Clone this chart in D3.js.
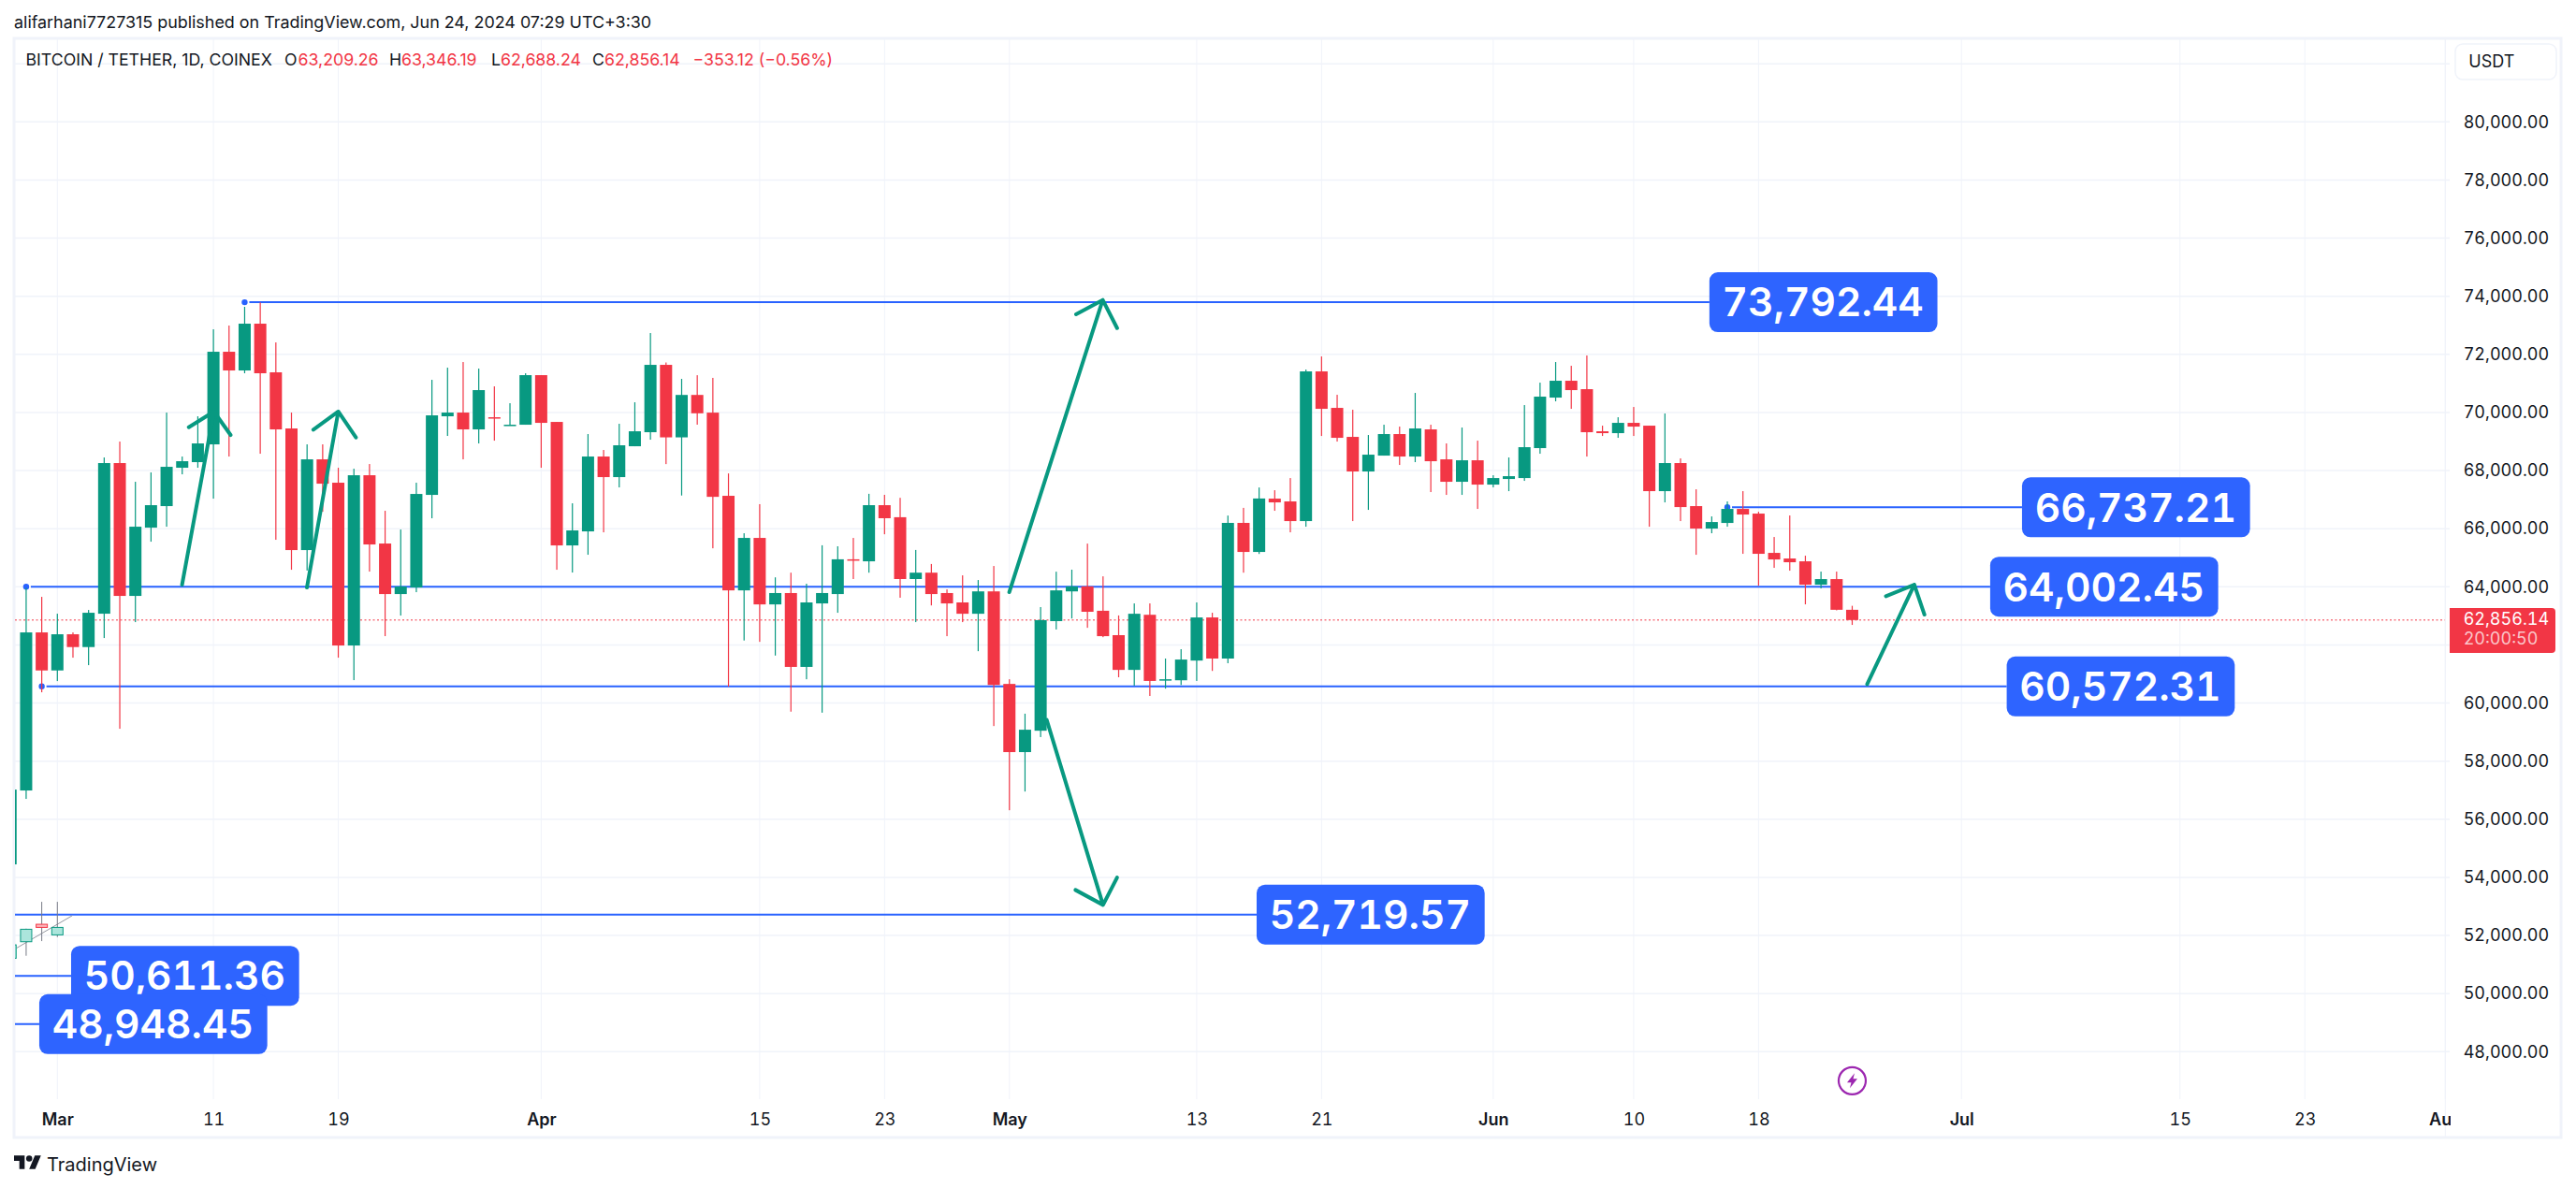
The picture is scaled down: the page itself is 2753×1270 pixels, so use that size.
<!DOCTYPE html>
<html>
<head>
<meta charset="utf-8">
<title>BTC/USDT</title>
<script src="https://cdn.jsdelivr.net/npm/d3@7"></script>
<style>
  html, body { margin: 0; padding: 0; background: #ffffff; }
  svg { display: block; }
  text { font-family: Inter, "Noto Sans", sans-serif; fill: #131722; }
  .tabular text, text.tabular { font-variant-numeric: tabular-nums; font-feature-settings: "tnum"; }
</style>
</head>
<body>
<div id="chart"></div>
<script>
const WIDTH = 2753;
const HEIGHT = 1270;

// daily candles, first candle is Feb 26 (day -3 counted from Mar 1)
const FIRST_DAY = -3;
const opens = [54447,56990,62430,61121,62366,61926,63074,68258,63686,66036,66777,68097,68290,68902,72089,71445,73055,71381,69449,65263,68386,67582,61980,67839,65489,63750,63976,67163,69868,69996,69417,69835,69578,69578,71284,69674,65424,65907,68483,67775,68837,69320,71638,69143,70603,69994,67131,63877,65682,63394,63785,61243,63428,63750,64946,64877,66809,66395,64267,64486,63785,63462,63072,63842,60657,58311,59047,62819,63842,64014,63175,62336,61140,63037,60783,60783,61461,62945,61531,66199,65199,67034,66938,66261,71413,70157,69159,67968,68515,69256,68483,69417,68386,67614,68354,67517,67710,67742,68773,70511,71091,70801,69352,69288,69642,69545,67292,68258,66777,66004,66197,66680,66519,65167,64974,64877,64072,64265,63209];
const highs = [57560,63965,63654,63074,62430,63203,68451,68998,67614,67936,69996,68483,69868,72862,72991,73635,73785,72411,69996,68902,68902,68097,68064,68225,66616,65972,67582,71123,71542,71735,71510,70898,70318,71349,71284,69674,66873,69256,68709,69610,70350,72733,71719,71155,71282,71190,67901,65843,66843,64325,64486,64106,65429,65394,65682,67200,67165,67062,65268,64785,63911,64394,64233,64716,60818,59633,63302,64520,64589,65486,64360,63014,63428,63428,61531,61853,63462,63106,66452,66717,67418,67324,67742,71477,71928,70608,70093,69224,69578,69513,70672,69578,68934,69481,69030,67839,68451,70254,71026,71735,71606,71960,69545,69835,70189,69545,69964,68419,67356,66422,66938,67292,66583,65714,66455,65070,64523,64523,63346];
const lows = [54440,56700,60370,60756,61561,61303,62237,59114,62784,65553,66068,67871,68097,67034,68483,71349,68580,65618,64587,64560,66584,61561,60788,64523,62302,63010,63815,66358,69192,68386,68934,69030,69546,69578,68097,64587,64491,65103,65875,67421,68837,69063,68223,67142,69580,65325,60565,62152,62106,61634,59703,60818,59668,63106,64267,64486,65808,63624,62784,63359,62301,62784,61784,59208,56310,56954,58828,62531,62910,62589,62266,60887,60599,60243,60496,60622,60760,61105,61370,64486,65130,66616,65875,66068,69191,68998,66261,66648,68515,68193,68290,67260,67163,67163,66680,67421,67292,67646,68580,70383,70125,68483,69191,69127,69191,66068,66905,66261,65102,65843,66068,65135,64040,64652,64555,63396,63944,63190,62688];
const closes = [57021,62430,61121,62366,61926,63106,68258,63686,66068,66809,68129,68322,68934,72089,71445,73055,71349,69417,65263,68386,67549,61980,67839,65457,63750,64008,67195,69900,69996,69417,70769,69803,69578,71284,69642,65424,65940,68483,67775,68870,69352,71638,69143,70603,69971,67096,63877,65682,63394,63785,61243,63462,63785,64946,64923,66809,66360,64267,64486,63750,63428,63072,63842,60622,58311,59081,62853,63877,64014,63140,62301,61140,63072,60760,60818,61496,62945,61531,66199,65199,67039,66905,66261,71413,70125,69127,67968,68547,69256,68483,69449,68322,67614,68354,67517,67742,67807,68805,70544,71091,70769,69320,69288,69642,69513,67292,68258,66744,66004,66229,66680,66487,65135,64941,64845,64072,64265,63209,62856];

// faded bars pattern in the lower left corner
const ghostDays = [-3, -2, -1, 0];
const ghostOpens = [51216, 51785, 52386, 52021];
const ghostHighs = [51677, 52235, 53158, 53158];
const ghostLows = [51216, 51302, 51806, 51946];
const ghostCloses = [51677, 52214, 52278, 52278];
const ghostLineDays = [-2.6, 0.96];
const ghostLinePrices = [51570, 52686];

// 62,000 has no label, the last price tag covers it
const priceTicks = [80000, 78000, 76000, 74000, 72000, 70000, 68000, 66000, 64000, 60000, 58000, 56000, 54000, 52000, 50000, 48000];
const priceGrid = d3.range(48000, 82001, 2000);
const dateTickDays = [0, 10, 18, 31, 45, 53, 61, 73, 81, 92, 101, 109, 122, 136, 144, 153];
const dateTickLabels = ["Mar", "11", "19", "Apr", "15", "23", "May", "13", "21", "Jun", "10", "18", "Jul", "15", "23", "Aug"];
const monthLabels = ["Mar", "Apr", "May", "Jun", "Jul", "Aug"];

// blue level lines with their value boxes
const levelPrices = [73792.44, 66737.21, 64002.45, 60572.31, 52719.57, 50611.36, 48948.45];
const levelStartDays = [12, 107, -2, -1, -4, -4, -4];
const levelBoxDays = [105.85, 125.88, 123.84, 124.9, 76.84, 0.88, -1.16];
const levelHasDot = [true, true, true, true, false, false, false];

// hand drawn arrows: shaft start, tip, head left, head right
const arrowDays = [
  [7.99, 10.03, 8.42, 11.1],
  [15.99, 18, 16.4, 19.13],
  [60.99, 66.98, 65.27, 67.9],
  [63.39, 67, 65.23, 67.9],
  [115.96, 118.98, 117.16, 119.63],
];
const arrowPrices = [
  [64073, 70029, 69491, 69224],
  [63976, 70030, 69407, 69137],
  [63815, 73870, 73377, 72904],
  [59417, 53052, 53567, 53995],
  [60650, 64073, 63677, 63042],
];

const LAST_PRICE = 62856.14;
const COUNTDOWN = "20:00:50";
const EVENT_DAY = 115;
const EVENT_PRICE = 47000;

const publishedText = "alifarhani7727315 published on TradingView.com, Jun 24, 2024 07:29 UTC+3:30";
const symbolText = "BITCOIN / TETHER, 1D, COINEX";
const ohlcLetters = ["O", "H", "L", "C"];
const ohlcValues = ["63,209.26", "63,346.19", "62,688.24", "62,856.14"];
const changeText = "\u2212353.12 (\u22120.56%)";

const GREEN = "#089981";
const RED = "#f23645";
const BLUE = "#2962ff";
const BOX_BLUE = "#2e64ff";
const GRID = "#f0f3fa";
const BORDER = "#f0f3fa";
const BODY_WIDTH = 13;
const WICK_WIDTH = 1.2;

const PLOT_LEFT = 16;
const PLOT_RIGHT = 2618;
const AXIS_LINE_X = 2613.3;
const PLOT_TOP = 42;
const PLOT_BOTTOM = 1175;
const BOX_WIDTH = 243.7;
const BOX_HEIGHT = 64;

const xScale = d3.scaleLinear().domain([0, 153]).range([61.3, AXIS_LINE_X]);
const yScale = d3.scaleLinear().domain([48000, 80000]).range([1124.3, 130.3]);

const svg = d3.select("#chart").append("svg")
  .attr("width", WIDTH)
  .attr("height", HEIGHT)
  .attr("viewBox", `0 0 ${WIDTH} ${HEIGHT}`);

const defs = svg.append("defs");
defs.append("clipPath").attr("id", "plot-clip").append("rect")
  .attr("x", PLOT_LEFT).attr("y", PLOT_TOP)
  .attr("width", AXIS_LINE_X - PLOT_LEFT).attr("height", PLOT_BOTTOM - PLOT_TOP);
defs.append("clipPath").attr("id", "time-clip").append("rect")
  .attr("x", PLOT_LEFT).attr("y", PLOT_BOTTOM)
  .attr("width", 2619 - PLOT_LEFT).attr("height", 40);

// frame
svg.append("rect")
  .attr("x", 15).attr("y", 41)
  .attr("width", 2722).attr("height", 1175)
  .attr("fill", "#ffffff")
  .attr("stroke", BORDER)
  .attr("stroke-width", 3);

// grid
svg.append("g").selectAll("line")
  .data(priceGrid)
  .join("line")
  .attr("x1", PLOT_LEFT)
  .attr("x2", PLOT_RIGHT)
  .attr("y1", (price) => yScale(price))
  .attr("y2", (price) => yScale(price))
  .attr("stroke", GRID)
  .attr("stroke-width", 1.5);

svg.append("g").selectAll("line")
  .data(dateTickDays)
  .join("line")
  .attr("x1", (day) => xScale(day))
  .attr("x2", (day) => xScale(day))
  .attr("y1", PLOT_TOP)
  .attr("y2", PLOT_BOTTOM)
  .attr("stroke", GRID)
  .attr("stroke-width", 1);

const plot = svg.append("g").attr("clip-path", "url(#plot-clip)");

// level lines sit behind the candles
const levels = levelPrices.map((price, index) => ({
  price,
  startDay: levelStartDays[index],
  boxDay: levelBoxDays[index],
  hasDot: levelHasDot[index],
}));

plot.append("g").selectAll("line")
  .data(levels)
  .join("line")
  .attr("x1", (level) => xScale(level.startDay) + (level.hasDot ? 5 : 0))
  .attr("x2", (level) => xScale(level.boxDay))
  .attr("y1", (level) => yScale(level.price))
  .attr("y2", (level) => yScale(level.price))
  .attr("stroke", BLUE)
  .attr("stroke-width", 2);

plot.append("g").selectAll("circle")
  .data(levels.filter((level) => level.hasDot))
  .join("circle")
  .attr("cx", (level) => xScale(level.startDay))
  .attr("cy", (level) => yScale(level.price))
  .attr("r", 3.2)
  .attr("fill", BLUE);

// last price line
plot.append("line")
  .attr("x1", PLOT_LEFT)
  .attr("x2", AXIS_LINE_X)
  .attr("y1", yScale(LAST_PRICE))
  .attr("y2", yScale(LAST_PRICE))
  .attr("stroke", RED)
  .attr("stroke-width", 1)
  .attr("stroke-dasharray", "2 2.5");

// faded bars
const ghosts = ghostDays.map((day, index) => ({
  day,
  open: ghostOpens[index],
  high: ghostHighs[index],
  low: ghostLows[index],
  close: ghostCloses[index],
}));
const ghostLayer = plot.append("g");

ghostLayer.append("line")
  .attr("x1", xScale(ghostLineDays[0]))
  .attr("x2", xScale(ghostLineDays[1]))
  .attr("y1", yScale(ghostLinePrices[0]))
  .attr("y2", yScale(ghostLinePrices[1]))
  .attr("stroke", "#9598a1")
  .attr("stroke-width", 1);

ghostLayer.selectAll("line.wick")
  .data(ghosts)
  .join("line")
  .attr("class", "wick")
  .attr("x1", (bar) => xScale(bar.day))
  .attr("x2", (bar) => xScale(bar.day))
  .attr("y1", (bar) => yScale(bar.high))
  .attr("y2", (bar) => yScale(bar.low))
  .attr("stroke", "#787b86")
  .attr("stroke-width", 1);

ghostLayer.selectAll("rect")
  .data(ghosts)
  .join("rect")
  .attr("x", (bar) => xScale(bar.day) - 6)
  .attr("width", 12)
  .attr("y", (bar) => yScale(Math.max(bar.open, bar.close)))
  .attr("height", (bar) => Math.abs(yScale(bar.open) - yScale(bar.close)))
  .attr("fill", (bar) => (bar.close >= bar.open ? "#ace5dc" : "#fcb4ba"))
  .attr("stroke", (bar) => (bar.close >= bar.open ? GREEN : RED))
  .attr("stroke-width", 1);

// candles
const candles = opens.map((open, index) => ({
  day: FIRST_DAY + index,
  open,
  high: highs[index],
  low: lows[index],
  close: closes[index],
}));
const candleColor = (candle) => (candle.close >= candle.open ? GREEN : RED);
const candleLayer = plot.append("g");

candleLayer.selectAll("rect.wick")
  .data(candles)
  .join("rect")
  .attr("class", "wick")
  .attr("x", (candle) => xScale(candle.day) - WICK_WIDTH / 2)
  .attr("width", WICK_WIDTH)
  .attr("y", (candle) => yScale(candle.high))
  .attr("height", (candle) => yScale(candle.low) - yScale(candle.high))
  .attr("fill", candleColor);

candleLayer.selectAll("rect.body")
  .data(candles)
  .join("rect")
  .attr("class", "body")
  .attr("x", (candle) => xScale(candle.day) - BODY_WIDTH / 2)
  .attr("width", BODY_WIDTH)
  .attr("y", (candle) => yScale(Math.max(candle.open, candle.close)))
  .attr("height", (candle) => Math.max(1.5, Math.abs(yScale(candle.open) - yScale(candle.close))))
  .attr("fill", candleColor);

// arrows
const arrowLine = d3.line();
const arrowPoint = (days, prices, index) => [xScale(days[index]), yScale(prices[index])];

plot.append("g").selectAll("path")
  .data(arrowDays.map((days, index) => ({ days, prices: arrowPrices[index] })))
  .join("path")
  .attr("d", ({ days, prices }) => {
    const tip = arrowPoint(days, prices, 1);
    return arrowLine([arrowPoint(days, prices, 0), tip]) +
      arrowLine([arrowPoint(days, prices, 2), tip, arrowPoint(days, prices, 3)]);
  })
  .attr("fill", "none")
  .attr("stroke", GREEN)
  .attr("stroke-width", 4)
  .attr("stroke-linecap", "round")
  .attr("stroke-linejoin", "round");

// level value boxes
const boxes = svg.append("g").attr("class", "tabular").selectAll("g")
  .data(levels)
  .join("g")
  .attr("transform", (level) => `translate(${xScale(level.boxDay)},${yScale(level.price)})`);

boxes.append("rect")
  .attr("y", -BOX_HEIGHT / 2)
  .attr("width", BOX_WIDTH)
  .attr("height", BOX_HEIGHT)
  .attr("rx", 9)
  .attr("fill", BOX_BLUE);

boxes.append("text")
  .attr("x", BOX_WIDTH / 2 - 0.5)
  .attr("dy", "0.36em")
  .attr("text-anchor", "middle")
  .attr("font-size", 42.5)
  .attr("font-weight", 600)
  .style("fill", "#ffffff")
  .text((level) => d3.format(",.2f")(level.price));

// event marker
const eventMarker = svg.append("g")
  .attr("transform", `translate(${xScale(EVENT_DAY)},${yScale(EVENT_PRICE)})`);
eventMarker.append("circle")
  .attr("r", 14.5)
  .attr("fill", "#ffffff")
  .attr("stroke", "#9c27b0")
  .attr("stroke-width", 2.2);
eventMarker.append("path")
  .attr("d", "M2.5,-8 L-5.5,2 L-1,2 L-2.5,8 L5.5,-2 L1,-2 Z")
  .attr("fill", "#9c27b0");

// price axis
svg.append("line")
  .attr("x1", AXIS_LINE_X).attr("x2", AXIS_LINE_X)
  .attr("y1", PLOT_TOP).attr("y2", 1215)
  .attr("stroke", GRID)
  .attr("stroke-width", 1);

const priceAxis = svg.append("g")
  .attr("class", "tabular")
  .attr("transform", `translate(2632.7,0)`)
  .call(d3.axisRight(yScale)
    .tickValues(priceTicks)
    .tickSize(0)
    .tickPadding(0)
    .tickFormat(d3.format(",.2f")));
priceAxis.select(".domain").remove();
priceAxis.selectAll("text")
  .attr("font-size", 18)
  .attr("font-family", "Inter, 'Noto Sans', sans-serif");

// date axis
const timeAxisClip = svg.append("g").attr("clip-path", "url(#time-clip)");
const timeAxis = timeAxisClip.append("g")
  .attr("class", "tabular")
  .attr("transform", `translate(0,1196.7)`)
  .call(d3.axisBottom(xScale)
    .tickValues(dateTickDays)
    .tickSize(0)
    .tickPadding(0)
    .tickFormat((day, index) => dateTickLabels[index]));
timeAxis.select(".domain").remove();
timeAxis.selectAll("text")
  .attr("font-size", 18)
  .attr("font-family", "Inter, 'Noto Sans', sans-serif")
  .attr("y", 0)
  .attr("dy", "0.36em")
  .attr("font-weight", (day, index) => (monthLabels.includes(dateTickLabels[index]) ? 600 : 400));

// last price tag
const tag = svg.append("g").attr("class", "tabular");
tag.append("path")
  .attr("d", `M2618,650 H2727 Q2731,650 2731,654 V694 Q2731,698 2727,698 H2618 Z`)
  .attr("fill", RED);
tag.append("text")
  .attr("x", 2632.7).attr("y", 661.7).attr("dy", "0.36em")
  .attr("font-size", 18)
  .style("fill", "#ffffff")
  .text(d3.format(",.2f")(LAST_PRICE));
tag.append("text")
  .attr("x", 2632.7).attr("y", 682.7).attr("dy", "0.36em")
  .attr("font-size", 18)
  .style("fill", "rgba(255,255,255,0.72)")
  .text(COUNTDOWN);

// currency button
svg.append("rect")
  .attr("x", 2624).attr("y", 47)
  .attr("width", 108).attr("height", 38)
  .attr("rx", 8)
  .attr("fill", "#ffffff")
  .attr("stroke", BORDER)
  .attr("stroke-width", 1.5);
svg.append("text")
  .attr("x", 2638.3).attr("y", 65.7).attr("dy", "0.36em")
  .attr("font-size", 18)
  .text("USDT");

// header
svg.append("text")
  .attr("x", 15).attr("y", 23.5).attr("dy", "0.36em")
  .attr("font-size", 17.9)
  .text(publishedText);

// legend line
const legend = svg.append("g").attr("font-size", 17.7);
legend.append("text")
  .attr("x", 27.5).attr("y", 64).attr("dy", "0.36em")
  .text(symbolText);

const letterX = [304, 416, 525, 633];
const valueX = [318.6, 429, 535, 646];
ohlcLetters.forEach((letter, index) => {
  legend.append("text")
    .attr("x", letterX[index]).attr("y", 64).attr("dy", "0.36em")
    .text(letter);
  legend.append("text")
    .attr("x", valueX[index]).attr("y", 64).attr("dy", "0.36em")
    .style("fill", RED)
    .text(ohlcValues[index]);
});
legend.append("text")
  .attr("x", 740.5).attr("y", 64).attr("dy", "0.36em")
  .style("fill", RED)
  .text(changeText);

// footer logo
const logo = svg.append("g").attr("transform", "translate(15,1232) scale(0.81)");
logo.append("path")
  .attr("d", "M14 22H7V11H0V4h14v18zM28 22h-8l7.5-18h8L28 22z")
  .attr("fill", "#131722");
logo.append("circle")
  .attr("cx", 20).attr("cy", 8).attr("r", 4)
  .attr("fill", "#131722");
svg.append("text")
  .attr("x", 50).attr("y", 1245).attr("dy", "0.36em")
  .attr("font-size", 20)
  .text("TradingView");
</script>
</body>
</html>
